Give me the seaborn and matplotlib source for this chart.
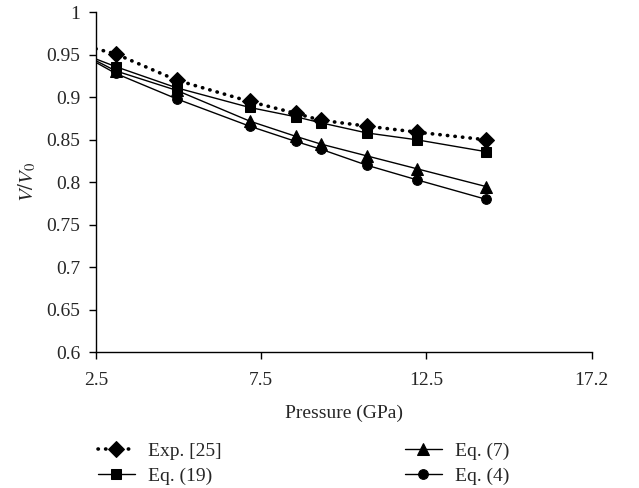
import matplotlib
matplotlib.use("Agg")
import matplotlib.pyplot as plt
import seaborn as sns
import pandas as pd

# pressure (GPa); first point is where the lines meet the y axis (no marker)
pressure = [2.5, 3.1, 4.95, 7.15, 8.55, 9.3, 10.7, 12.2, 14.3]
exp25 = [0.957, 0.951, 0.920, 0.895, 0.881, 0.873, 0.866, 0.859, 0.850]
eq19 = [0.945, 0.936, 0.911, 0.888, 0.877, 0.870, 0.858, 0.850, 0.836]
eq7 = [0.943, 0.931, 0.908, 0.872, 0.854, 0.845, 0.831, 0.816, 0.795]
eq4 = [0.941, 0.928, 0.898, 0.866, 0.848, 0.839, 0.820, 0.803, 0.780]

x_ticks = [2.5, 7.5, 12.5, 17.5]
x_tick_labels = ["2.5", "7.5", "12.5", "17.2"]
y_ticks = [0.6, 0.65, 0.7, 0.75, 0.8, 0.85, 0.9, 0.95, 1.0]
y_tick_labels = ["0.6", "0.65", "0.7", "0.75", "0.8", "0.85", "0.9", "0.95", "1"]

sns.set_style("ticks")
plt.rcParams["font.family"] = ["Liberation Serif", "DejaVu Serif"]
plt.rcParams["mathtext.fontset"] = "stix"

fig = plt.figure(figsize=(6.39, 4.88), dpi=100)
ax = fig.add_axes([0.150, 0.278, 0.776, 0.697])

series = [
    ("Exp. [25]", exp25, "D", 8, (0, (0.1, 2.0)), 2.6),
    ("Eq. (19)", eq19, "s", 7, "-", 1.0),
    ("Eq. (7)", eq7, "^", 8, "-", 1.0),
    ("Eq. (4)", eq4, "o", 7, "-", 1.0),
]

for name, vals, mk, ms, ls, lw in series:
    df = pd.DataFrame({"p": pressure, "v": vals})
    sns.lineplot(data=df, x="p", y="v", ax=ax, color="black", linestyle=ls,
                 linewidth=lw, marker=mk, markersize=ms, markevery=list(range(1, len(pressure))),
                 markeredgecolor="black", markerfacecolor="black", dash_capstyle="round",
                 label=name, sort=False, legend=False)

ax.set_xlim(2.5, 17.5)
ax.set_ylim(0.6, 1.0)
ax.set_xticks(x_ticks)
ax.set_xticklabels(x_tick_labels)
ax.set_yticks(y_ticks)
ax.set_yticklabels(y_tick_labels)
ax.tick_params(axis="both", labelsize=14, length=5, width=1, color="black", direction="out")
ax.tick_params(axis="x", pad=9.5)
ax.tick_params(axis="y", pad=6)
for s in ["top", "right"]:
    ax.spines[s].set_visible(False)
for s in ["left", "bottom"]:
    ax.spines[s].set_color("black")
    ax.spines[s].set_linewidth(1)

ax.set_xlabel("Pressure (GPa)", fontsize=14, labelpad=11)
ax.set_ylabel("$V/V_0$", fontsize=15, labelpad=6)

h, l = ax.get_legend_handles_labels()
fig.legend(h, l, ncol=2, loc="upper left", bbox_to_anchor=(0.153, 0.093),
           frameon=False, fontsize=14, handlelength=1.9, columnspacing=9.4,
           labelspacing=0.38, handletextpad=0.7, borderpad=0, borderaxespad=0)

fig.savefig("out.png", dpi=100)
